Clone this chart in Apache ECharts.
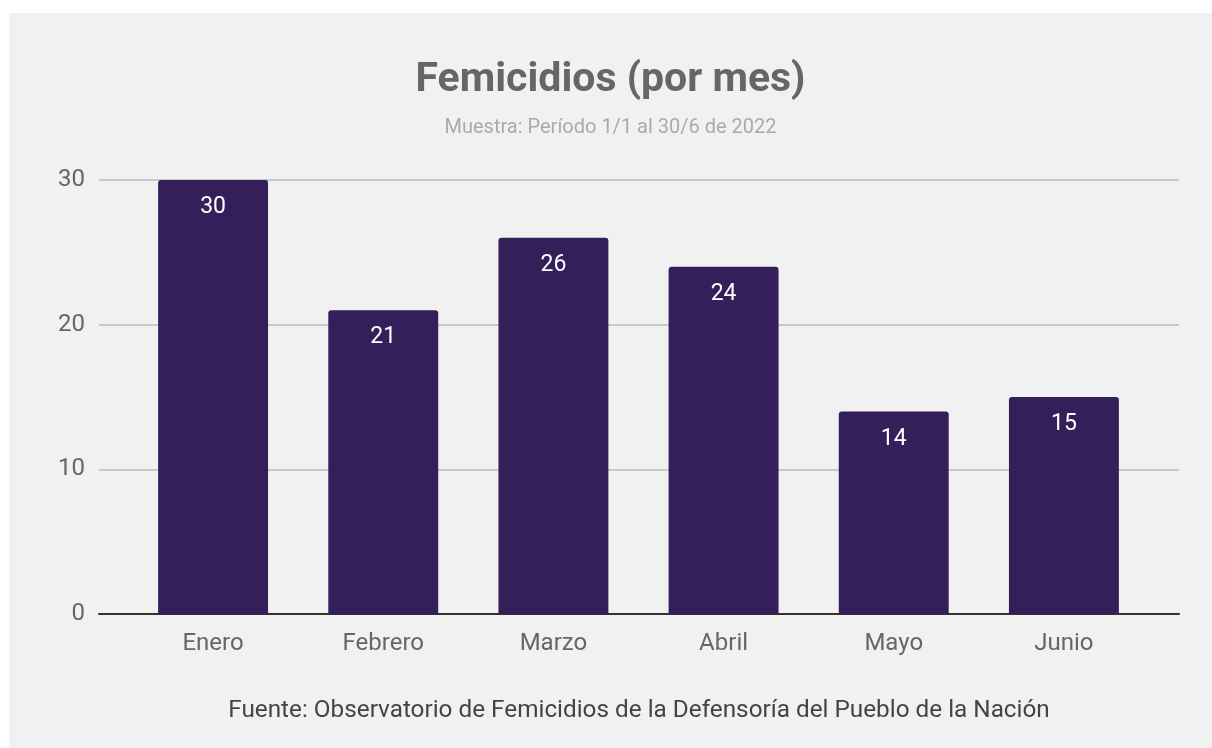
<!DOCTYPE html>
<html><head><meta charset="utf-8">
<script src="https://cdn.jsdelivr.net/npm/echarts@6/dist/echarts.min.js"></script>
<style>
html,body{margin:0;padding:0;background:#fff;width:1212px;height:748px;overflow:hidden}
#c{position:absolute;left:9px;top:13px;width:1203px;height:735px;background:#f1f1f1}
</style></head><body>
<div id="c"></div>
<script>
const categories = ['Enero','Febrero','Marzo','Abril','Mayo','Junio'];
const femicidios = [30,21,26,24,14,15];
const titleText = 'Femicidios (por mes)';
const subtitleText = 'Muestra: Período 1/1 al 30/6 de 2022';
const footerText = 'Fuente: Observatorio de Femicidios de la Defensoría del Pueblo de la Nación';

const chart = echarts.init(document.getElementById('c'), null, {renderer:'canvas'});
chart.setOption({
  backgroundColor:'#f1f1f1',
  textStyle:{fontFamily:'Roboto'},
  title:[
    {text:titleText, left:'center', top:42,
     textStyle:{fontFamily:'Roboto', fontSize:41, fontWeight:'bold', color:'#666'}},
    {text:subtitleText, left:'center', top:100,
     textStyle:{fontFamily:'Roboto', fontSize:20, fontWeight:'normal', color:'#aaa'}},
    {text:footerText, left:625, textAlign:'center', top:681,
     textStyle:{fontFamily:'Roboto', fontSize:24.3, fontWeight:'normal', color:'#444'}}
  ],
  grid:[
    {left:90, right:33, top:167, bottom:134},
    {left:119, right:63, top:167, bottom:134}
  ],
  xAxis:[
    {type:'value', gridIndex:0, min:0, max:1,
     axisLine:{show:true, onZero:false, lineStyle:{color:'#333', width:2}}, axisTick:{show:false},
     axisLabel:{show:false}, splitLine:{show:false}},
    {type:'category', gridIndex:1, data:categories,
     axisLine:{show:false}, axisTick:{show:false},
     axisLabel:{fontFamily:'Roboto', fontSize:24, color:'#666', margin:18}}
  ],
  yAxis:[
    {type:'value', gridIndex:0, min:0, max:30, interval:10,
     axisLine:{show:false}, axisTick:{show:false},
     splitLine:{lineStyle:{color:'#c8c8c8', width:2}},
     axisLabel:{fontFamily:'Roboto', fontSize:24, color:'#666', margin:14}},
    {type:'value', gridIndex:1, min:0, max:30, interval:10, show:false}
  ],
  series:[{type:'bar', xAxisIndex:1, yAxisIndex:1, data:femicidios, barWidth:'64.6%', z:3,
    itemStyle:{color:'#341f5b', borderRadius:[3,3,0,0]},
    label:{show:true, position:'insideTop', distance:16, color:'#fff', fontSize:23, fontFamily:'Roboto'}}]
});
</script></body></html>
